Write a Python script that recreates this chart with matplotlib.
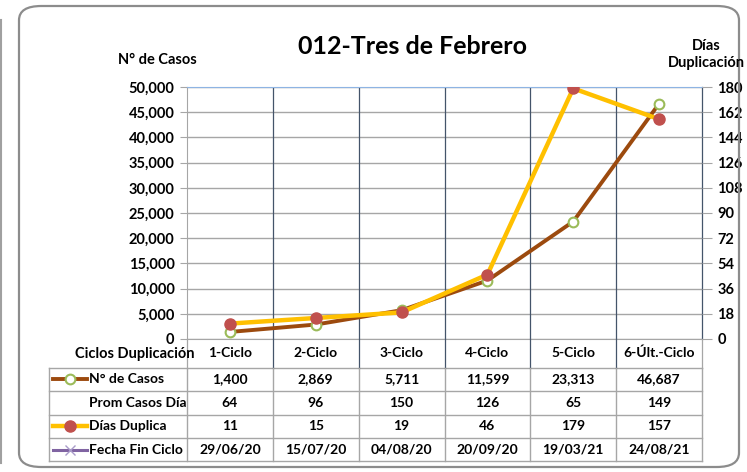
import matplotlib
matplotlib.use("Agg")
import matplotlib.pyplot as plt
import matplotlib.transforms as mtransforms
from matplotlib.patches import FancyBboxPatch
from matplotlib.lines import Line2D
from matplotlib.ticker import FuncFormatter

plt.rcParams['font.family'] = ['Lato', 'DejaVu Sans']
plt.rcParams['font.weight'] = 'bold'

# data
ciclos = ['1-Ciclo', '2-Ciclo', '3-Ciclo', '4-Ciclo', '5-Ciclo', '6-Últ.-Ciclo']
casos = [1400, 2869, 5711, 11599, 23313, 46687]
prom_casos = [64, 96, 150, 126, 65, 149]
dias_duplica = [11, 15, 19, 46, 179, 157]
fecha_fin = ['29/06/20', '15/07/20', '04/08/20', '20/09/20', '19/03/21', '24/08/21']

W, H = 747, 472
fig = plt.figure(figsize=(W / 100, H / 100), dpi=100)


def fx(px):
    return px / W


def fy(py):
    return 1 - py / H


# outer rounded frame
frame = FancyBboxPatch((fx(19), fy(467)), fx(720), fy(6) - fy(467),
                       boxstyle="round,pad=0,rounding_size=0.03",
                       transform=fig.transFigure, fill=False,
                       edgecolor='#8c8c8c', linewidth=1.6)
fig.patches.append(frame)
fig.add_artist(Line2D([fx(1.5), fx(1.5)], [fy(20), fy(463)], color='#a0a0a0', lw=1.5))

ax = fig.add_axes([fx(187), fy(339), fx(702) - fx(187), fy(87) - fy(339)])
x = list(range(len(ciclos)))
ax.set_xlim(-0.5, len(ciclos) - 0.5)
ax.set_ylim(0, 50000)
ax.set_yticks(range(0, 50001, 5000))
ax.yaxis.set_major_formatter(FuncFormatter(lambda v, p: f'{int(v):,}'))
ax.set_xticks([])
ax.yaxis.grid(True, color='#a6a6a6', lw=1)
for b in [i - 0.5 for i in range(1, len(ciclos))]:
    ax.axvline(b, color='#44546a', lw=0.9, zorder=1)
ax.spines['top'].set_color('#8eb4e3')
ax.spines['left'].set_color('#a6a6a6')
ax.spines['right'].set_color('#44546a')
ax.spines['right'].set_linewidth(0.9)
ax.spines['bottom'].set_color('#a6a6a6')
ax.tick_params(axis='y', length=5, color='#a6a6a6', labelsize=10.5, pad=4)
ax.set_axisbelow(True)

ax2 = ax.twinx()
ax2.set_ylim(0, 180)
ax2.set_yticks(range(0, 181, 18))
ax2.tick_params(axis='y', length=7, color='#a6a6a6', labelsize=10.5, pad=4)
for s in ax2.spines.values():
    s.set_visible(False)

ax.plot(x, casos, color='#9c4a0e', lw=2.8, marker='o', markersize=7,
        markerfacecolor='white', markeredgecolor='#9bbb59', markeredgewidth=1.5, zorder=3)
ax2.plot(x, dias_duplica, color='#ffc000', lw=3.2, marker='o', markersize=8,
         markerfacecolor='#c0504d', markeredgecolor='#c0504d', zorder=4)

# titles
fig.text(fx(412), fy(46), '012-Tres de Febrero', ha='center', va='center', fontsize=18)
fig.text(fx(157), fy(60), 'N° de Casos', ha='center', va='center', fontsize=10.5)
fig.text(fx(706), fy(46), 'Días', ha='center', va='center', fontsize=10.5)
fig.text(fx(706), fy(63), 'Duplicación', ha='center', va='center', fontsize=10.5)

# data table
tr = mtransforms.blended_transform_factory(ax.transData, fig.transFigure)
grid_c = '#a6a6a6'
row_y = [367.5, 391, 414.5, 438, 461]
left_px = 49
for ry in row_y:
    fig.add_artist(Line2D([fx(left_px), fx(702)], [fy(ry), fy(ry)], color=grid_c, lw=1))
fig.add_artist(Line2D([fx(left_px), fx(left_px)], [fy(row_y[0]), fy(row_y[-1])], color=grid_c, lw=1))
for b in [i - 0.5 for i in range(len(ciclos) + 1)]:
    col = '#44546a' if 0 < b + 0.5 < len(ciclos) else grid_c
    fig.add_artist(Line2D([b, b], [fy(339), fy(row_y[0])], transform=tr, color=col, lw=0.9))
    fig.add_artist(Line2D([b, b], [fy(row_y[0]), fy(row_y[-1])], transform=tr, color=grid_c, lw=1))

fig.text(fx(135), fy(354), 'Ciclos Duplicación', ha='center', va='center', fontsize=10.5)
for i, c in enumerate(ciclos):
    fig.text(i, fy(353), c, transform=tr, ha='center', va='center', fontsize=10)

rows = [
    ('N° de Casos', [f'{v:,}' for v in casos]),
    ('Prom Casos Día', [str(v) for v in prom_casos]),
    ('Días Duplica', [str(v) for v in dias_duplica]),
    ('Fecha Fin Ciclo', fecha_fin),
]
for r, (label, vals) in enumerate(rows):
    yc = (row_y[r] + row_y[r + 1]) / 2
    fig.text(fx(89), fy(yc), label, ha='left', va='center', fontsize=10)
    for i, v in enumerate(vals):
        fig.text(i, fy(yc), v, transform=tr, ha='center', va='center', fontsize=10)

# legend keys
def key(yc, color, lw, **mk):
    fig.add_artist(Line2D([fx(53), fx(87)], [fy(yc), fy(yc)], color=color, lw=lw))
    if mk:
        fig.add_artist(Line2D([fx(70)], [fy(yc)], linestyle='none', **mk))

key((row_y[0] + row_y[1]) / 2, '#9c4a0e', 2.8, marker='o', markersize=7,
    markerfacecolor='white', markeredgecolor='#9bbb59', markeredgewidth=1.5)
key((row_y[2] + row_y[3]) / 2, '#ffc000', 3.2, marker='o', markersize=8,
    markerfacecolor='#c0504d', markeredgecolor='#c0504d')
key((row_y[3] + row_y[4]) / 2, '#8064a2', 2.2, marker='x', markersize=7,
    markeredgecolor='#a99bc9', markeredgewidth=1)

fig.savefig('out.png', dpi=100)
